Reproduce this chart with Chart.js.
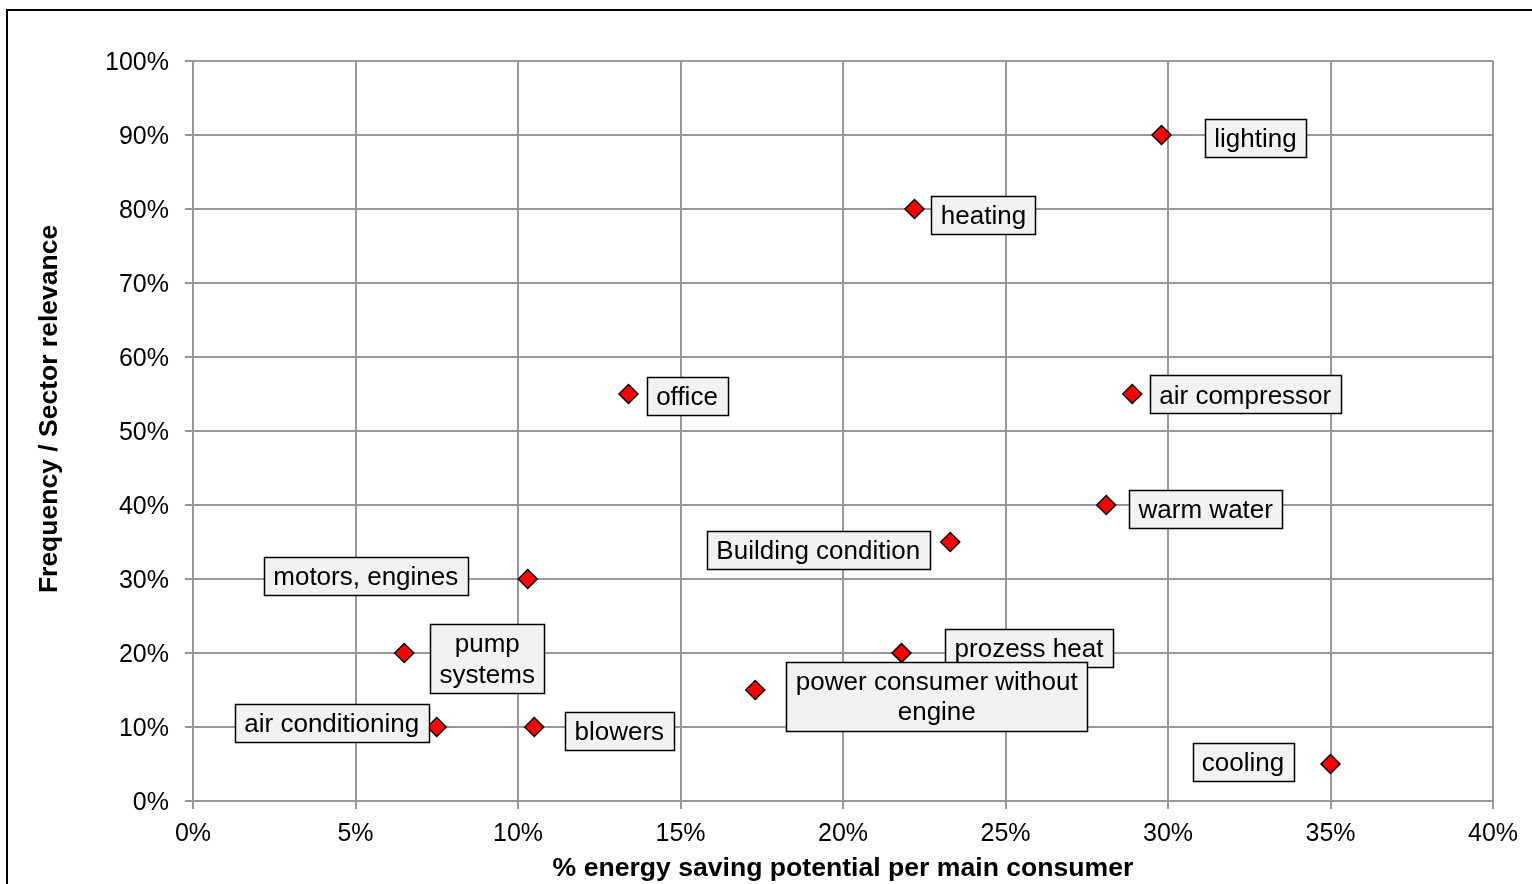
<!DOCTYPE html>
<html>
<head>
<meta charset="utf-8">
<script src="https://cdn.jsdelivr.net/npm/chart.js@4/dist/chart.umd.min.js"></script>
<style>
  html, body { margin: 0; padding: 0; background: #ffffff; overflow: hidden; }
  #wrap { position: relative; width: 1532px; height: 884px; }
  #frame { position: absolute; left: 6px; top: 9px; width: 1600px; height: 1000px; border: 2px solid #000; box-sizing: border-box; pointer-events: none; }
  canvas { position: absolute; left: 0; top: 0; }
</style>
</head>
<body>
<div id="wrap">
  <canvas id="c" width="1532" height="884"></canvas>
  <div id="frame"></div>
</div>
<script>
// ---- data ----
const categories = [
  'lighting', 'heating', 'office', 'air compressor', 'warm water',
  'Building condition', 'motors, engines', 'pump systems', 'prozess heat',
  'power consumer without engine', 'air conditioning', 'blowers', 'cooling'
];
// % energy saving potential per main consumer
const savingPotential = [29.8, 22.2, 13.4, 28.9, 28.1, 23.3, 10.3, 6.5, 21.8, 17.3, 7.5, 10.5, 35.0];
// Frequency / Sector relevance (%)
const sectorRelevance = [90, 80, 55, 55, 40, 35, 30, 20, 20, 15, 10, 10, 5];
// label text as shown in the boxes (line breaks)
const labelLines = [
  ['lighting'], ['heating'], ['office'], ['air compressor'], ['warm water'],
  ['Building condition'], ['motors, engines'], ['pump', 'systems'], ['prozess heat'],
  ['power consumer without', 'engine'], ['air conditioning'], ['blowers'], ['cooling']
];
// label box centre offsets from the marker (pixels)
const labelOffsets = [
  [94, 3], [69, 6], [58.5, 2], [113, 0.5], [99.5, 3.5],
  [-132, 7.5], [-162, -3], [83, 5.5], [127.5, -5.5],
  [181.5, 6], [-105, -4.5], [85, 3.5], [-87.5, -2.5]
];
const xTicks = [0, 5, 10, 15, 20, 25, 30, 35, 40];
const yTicks = [0, 10, 20, 30, 40, 50, 60, 70, 80, 90, 100];
const xTitle = '% energy saving potential per main consumer';
const yTitle = 'Frequency / Sector relevance';

const FONT = "'Liberation Sans', Arial, sans-serif";
const GRID = '#989898';

const points = savingPotential.map((x, i) => ({ x: x, y: sectorRelevance[i] }));

const labelPlugin = {
  id: 'boxLabels',
  afterDatasetsDraw(chart) {
    const ctx = chart.ctx;
    const meta = chart.getDatasetMeta(0);
    ctx.save();
    ctx.font = '26px ' + FONT;
    ctx.textAlign = 'center';
    ctx.textBaseline = 'middle';
    meta.data.forEach((el, i) => {
      const lines = labelLines[i];
      const cx = el.x + labelOffsets[i][0];
      const cy = el.y + labelOffsets[i][1];
      const lineH = 30.5;
      let w = 0;
      lines.forEach(l => { w = Math.max(w, ctx.measureText(l).width); });
      const bw = Math.round(w + 19);
      const bh = Math.round(lines.length * lineH + 7.5);
      const bx = Math.round(cx - bw / 2) + 0.5;
      const by = Math.round(cy - bh / 2) + 0.5;
      ctx.fillStyle = '#f2f2f2';
      ctx.fillRect(bx, by, bw, bh);
      ctx.strokeStyle = '#000';
      ctx.lineWidth = 1.5;
      ctx.strokeRect(bx, by, bw, bh);
      ctx.fillStyle = '#000';
      lines.forEach((l, k) => {
        const ly = cy + (k - (lines.length - 1) / 2) * lineH + 2;
        ctx.fillText(l, cx, ly);
      });
    });
    ctx.restore();
  },
  afterDraw(chart) {
    const ctx = chart.ctx;
    ctx.save();
    ctx.font = 'bold 26.5px ' + FONT;
    ctx.fillStyle = '#000';
    ctx.textAlign = 'center';
    ctx.textBaseline = 'middle';
    ctx.translate(50, 409);
    ctx.rotate(-Math.PI / 2);
    ctx.fillText(yTitle, 0, 0);
    ctx.restore();
  }
};

new Chart(document.getElementById('c'), {
  type: 'scatter',
  data: {
    labels: categories,
    datasets: [{
      data: points,
      pointStyle: 'rectRot',
      pointRadius: 9.5,
      pointHoverRadius: 9.5,
      backgroundColor: '#ff0000',
      borderColor: '#000000',
      borderWidth: 1.5
    }]
  },
  options: {
    responsive: false,
    animation: false,
    events: [],
    layout: { padding: { left: 0, right: 39, top: 61, bottom: 0 } },
    plugins: { legend: { display: false }, tooltip: { enabled: false } },
    scales: {
      x: {
        type: 'linear',
        min: 0, max: 40,
        afterBuildTicks(scale) { scale.ticks = xTicks.map(v => ({ value: v })); },
        afterFit(scale) { scale.height = 83; },
        grid: { color: GRID, lineWidth: 2, tickLength: 8, drawTicks: true },
        border: { color: GRID, width: 2 },
        ticks: {
          font: { family: FONT, size: 25 },
          color: '#000',
          padding: 10,
          maxRotation: 0,
          callback: v => v + '%'
        },
        title: {
          display: true,
          text: xTitle,
          font: { family: FONT, size: 26.6, weight: 'bold' },
          color: '#000',
          padding: { top: 0, bottom: -1 }
        }
      },
      y: {
        type: 'linear',
        min: 0, max: 100,
        afterBuildTicks(scale) { scale.ticks = yTicks.map(v => ({ value: v })); },
        afterFit(scale) { scale.width = 193; },
        grid: { color: GRID, lineWidth: 2, tickLength: 8, drawTicks: true },
        border: { color: GRID, width: 2 },
        ticks: {
          font: { family: FONT, size: 25 },
          color: '#000',
          padding: 16,
          labelOffset: 2,
          callback: v => v + '%'
        }
      }
    }
  },
  plugins: [labelPlugin]
});
</script>
</body>
</html>
